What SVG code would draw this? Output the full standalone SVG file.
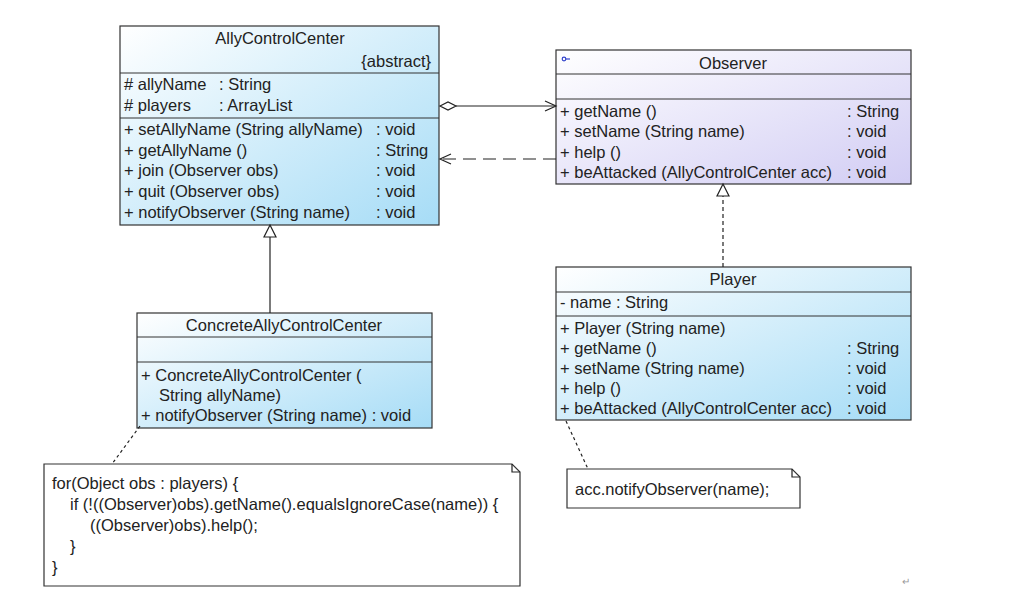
<svg xmlns="http://www.w3.org/2000/svg" width="1014" height="608" viewBox="0 0 1014 608">
<defs>
<linearGradient id="gBlue" x1="0" y1="0" x2="1" y2="1">
<stop offset="0" stop-color="#ffffff"/>
<stop offset="1" stop-color="#a6dcf6"/>
</linearGradient>
<linearGradient id="gLav" x1="0" y1="0" x2="1" y2="1">
<stop offset="0" stop-color="#ffffff"/>
<stop offset="1" stop-color="#d2cdf4"/>
</linearGradient>
<style>
.box{stroke:#333;stroke-width:1.2}
.sep{stroke:#333;stroke-width:1}
text{font-family:"Liberation Sans",Arial,sans-serif;font-size:16.5px;fill:#222}
.c{text-anchor:middle}
.r{text-anchor:end}
.ln{stroke:#222;stroke-width:1.2;fill:none}
.note{fill:#fff;stroke:#333;stroke-width:1.2}
</style>
</defs>
<rect width="1014" height="608" fill="#fff"/>

<g id="AllyControlCenter">
<rect class="box" x="120" y="26" width="319" height="199" fill="url(#gBlue)"/>
<line class="sep" x1="120" y1="73" x2="439" y2="73"/>
<line class="sep" x1="120" y1="118" x2="439" y2="118"/>
<text class="c" x="280" y="44">AllyControlCenter</text>
<text class="r" x="431" y="67">{abstract}</text>
<text x="124" y="90"># allyName</text><text x="219" y="90">: String</text>
<text x="124" y="111"># players</text><text x="219" y="111">: ArrayList</text>
<text x="124" y="135">+ setAllyName (String allyName)</text><text x="376" y="135">: void</text>
<text x="124" y="156">+ getAllyName ()</text><text x="376" y="156">: String</text>
<text x="124" y="176">+ join (Observer obs)</text><text x="376" y="176">: void</text>
<text x="124" y="197">+ quit (Observer obs)</text><text x="376" y="197">: void</text>
<text x="124" y="218">+ notifyObserver (String name)</text><text x="376" y="218">: void</text>
</g>

<g id="Observer">
<rect class="box" x="556" y="50" width="355" height="134" fill="url(#gLav)"/>
<line class="sep" x1="556" y1="74" x2="911" y2="74"/>
<line class="sep" x1="556" y1="99" x2="911" y2="99"/>
<circle cx="564" cy="59" r="1.8" fill="none" stroke="#3344cc" stroke-width="1.2"/>
<line x1="566" y1="59" x2="570" y2="59" stroke="#3344cc" stroke-width="1.2"/>
<text class="c" x="733" y="69">Observer</text>
<text x="560" y="117">+ getName ()</text><text x="847" y="117">: String</text>
<text x="560" y="137">+ setName (String name)</text><text x="847" y="137">: void</text>
<text x="560" y="158">+ help ()</text><text x="847" y="158">: void</text>
<text x="560" y="178">+ beAttacked (AllyControlCenter acc)</text><text x="847" y="178">: void</text>
</g>

<g id="ConcreteAllyControlCenter">
<rect class="box" x="137" y="313" width="295" height="115" fill="url(#gBlue)"/>
<line class="sep" x1="137" y1="337" x2="432" y2="337"/>
<line class="sep" x1="137" y1="362" x2="432" y2="362"/>
<text class="c" x="284" y="331">ConcreteAllyControlCenter</text>
<text x="141" y="381">+ ConcreteAllyControlCenter (</text>
<text x="159" y="401">String allyName)</text>
<text x="141" y="421">+ notifyObserver (String name) : void</text>
</g>

<g id="Player">
<rect class="box" x="556" y="267" width="355" height="153" fill="url(#gBlue)"/>
<line class="sep" x1="556" y1="292" x2="911" y2="292"/>
<line class="sep" x1="556" y1="316" x2="911" y2="316"/>
<text class="c" x="733" y="285">Player</text>
<text x="560" y="308">- name : String</text>
<text x="560" y="334">+ Player (String name)</text>
<text x="560" y="354">+ getName ()</text><text x="847" y="354">: String</text>
<text x="560" y="374">+ setName (String name)</text><text x="847" y="374">: void</text>
<text x="560" y="394">+ help ()</text><text x="847" y="394">: void</text>
<text x="560" y="414">+ beAttacked (AllyControlCenter acc)</text><text x="847" y="414">: void</text>
</g>

<g id="Note1">
<path class="note" d="M44,464 H512 L520,472 V586 H44 Z"/>
<path class="ln" d="M512,464 V472 H520"/>
<text x="52" y="489">for(Object obs : players) {</text>
<text x="70" y="510">if (!((Observer)obs).getName().equalsIgnoreCase(name)) {</text>
<text x="90" y="531">((Observer)obs).help();</text>
<text x="70" y="552">}</text>
<text x="52" y="573">}</text>
</g>

<g id="Note2">
<path class="note" d="M567,469 H792 L800,477 V508 H567 Z"/>
<path class="ln" d="M792,469 V477 H800"/>
<text x="575" y="495">acc.notifyObserver(name);</text>
</g>

<g id="connectors">
<path class="ln" d="M440,106 L448,102 L456,106 L448,110 Z" fill="#fff"/>
<line class="ln" x1="456" y1="106" x2="556" y2="106"/>
<path class="ln" d="M545,101 L556,106 L545,111"/>
<line class="ln" x1="556" y1="159" x2="441" y2="159" stroke-dasharray="13,7"/>
<path class="ln" d="M451,154 L440,159 L451,164"/>
<line class="ln" x1="270" y1="313" x2="270" y2="237"/>
<path class="ln" d="M270,225 L276,237 L264,237 Z" fill="#fff"/>
<line class="ln" x1="723" y1="267" x2="723" y2="196" stroke-dasharray="4,3"/>
<path class="ln" d="M723,184 L729,196 L717,196 Z" fill="#fff"/>
<line class="ln" x1="140" y1="426" x2="112" y2="464" stroke-dasharray="3,3"/>
<line class="ln" x1="566" y1="421" x2="588" y2="469" stroke-dasharray="3,3"/>
</g>
<text x="902" y="585" style="font-size:10px;fill:#999">↵</text>
</svg>
